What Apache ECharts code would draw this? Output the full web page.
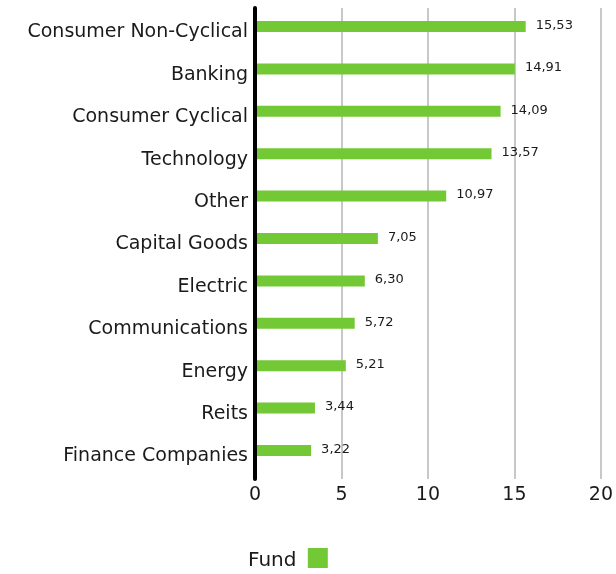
<!DOCTYPE html>
<html>
<head>
<meta charset="utf-8">
<script src="https://cdn.jsdelivr.net/npm/echarts@6/dist/echarts.min.js"></script>
<style>html,body{margin:0;padding:0;background:#fff}#c{width:616px;height:574px}</style>
</head>
<body>
<div id="c"></div>
<script>
var categories = ["Consumer Non-Cyclical","Banking","Consumer Cyclical","Technology","Other","Capital Goods","Electric","Communications","Energy","Reits","Finance Companies"];
var fundValues = [15.53,14.91,14.09,13.57,10.97,7.05,6.30,5.72,5.21,3.44,3.22];
var xTicks = [0,5,10,15,20];
var seriesName = "Fund";

var FONT = "DejaVu Sans";
var chart = echarts.init(document.getElementById('c'), null, {renderer:'canvas'});
chart.setOption({
  animation:false,
  textStyle:{fontFamily:FONT},
  legend:{
    data:[seriesName], left:248, top:545, padding:0, itemWidth:20, itemHeight:20, align:'right',
    icon:'rect', textStyle:{fontSize:20, color:'#1a1a1a', fontFamily:FONT, lineHeight:6},
    formatter:function(n){return '\n' + n + ' ';}
  },
  grid:[
    {left:255, right:12.4, top:5.3, height:466.4, containLabel:false},
    {left:255, right:12.4, top:8, bottom:95, containLabel:false}
  ],
  xAxis:[
    {gridIndex:0, type:'value', min:xTicks[0], max:xTicks[xTicks.length-1], interval:5, show:false},
    {gridIndex:1, type:'value', min:xTicks[0], max:xTicks[xTicks.length-1], interval:5,
     axisLine:{show:false}, axisTick:{show:false},
     splitLine:{show:true, lineStyle:{color:'#c8c8c8', width:2}},
     axisLabel:{fontSize:19, color:'#1a1a1a', margin:7, fontFamily:FONT}}
  ],
  yAxis:[
    {gridIndex:0, type:'category', data:categories, inverse:true,
     axisLine:{show:false}, axisTick:{show:false}, splitLine:{show:false},
     axisLabel:{fontSize:19, color:'#1a1a1a', margin:7, lineHeight:12, fontFamily:FONT,
       formatter:function(v){return '\n' + v;}}},
    {gridIndex:1, type:'value', axisLabel:{show:false}, axisTick:{show:false}, splitLine:{show:false},
     axisLine:{show:true, lineStyle:{color:'#000', width:4}}, z:10}
  ],
  series:[{
    name:seriesName, type:'bar', xAxisIndex:0, yAxisIndex:0, data:fundValues,
    barWidth:11, itemStyle:{color:'#73c935'}, z:2,
    label:{show:true, position:'right', distance:10, fontSize:13, color:'#1a1a1a', fontFamily:FONT,
      offset:[0,-1],
      formatter:function(p){return p.value.toFixed(2).replace('.',',');}}
  }]
});
</script>
</body>
</html>
